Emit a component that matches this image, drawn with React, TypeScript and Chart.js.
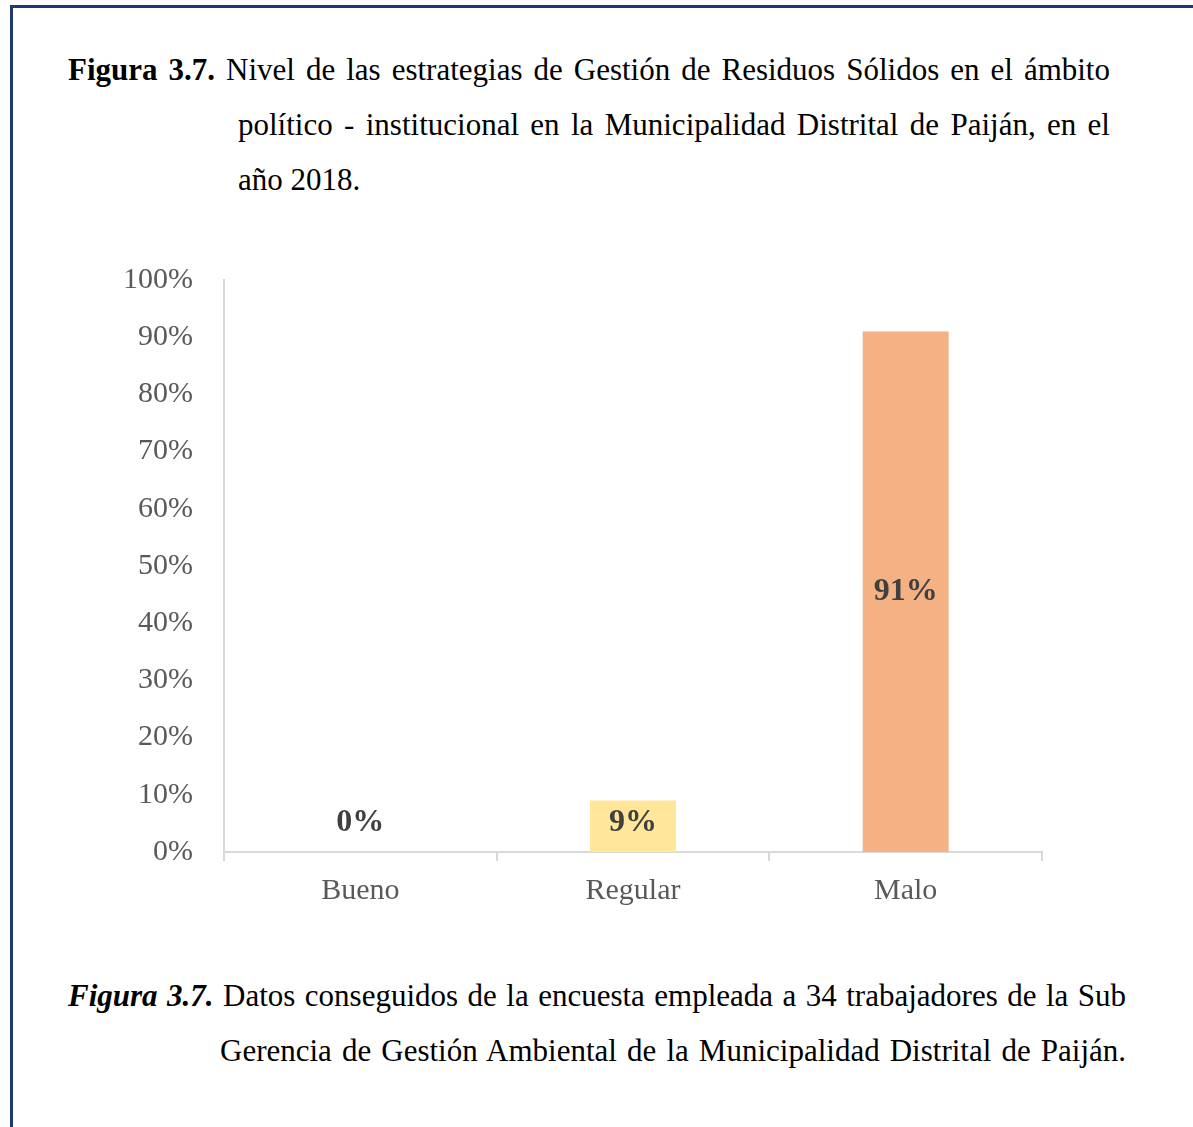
import React, { useEffect, useRef } from "react";
import { Chart, registerables } from "chart.js";

Chart.register(...registerables);

const categories = ["Bueno", "Regular", "Malo"];
const values = [0, 9, 91];
const valueLabels = ["0%", "9%", "91%"];
const barColors = ["#5B9BD5", "#FFE699", "#F4B183"];
const yTicks = [0, 10, 20, 30, 40, 50, 60, 70, 80, 90, 100];

const FONT = "'Liberation Serif', 'Times New Roman', serif";

const dataLabelPlugin = {
  id: "dataLabels",
  afterDatasetsDraw(chart: any) {
    const ctx = chart.ctx;
    const meta = chart.getDatasetMeta(0);
    ctx.save();
    ctx.font = `bold 32px ${FONT}`;
    ctx.fillStyle = "#404040";
    ctx.textAlign = "center";
    ctx.textBaseline = "middle";
    meta.data.forEach((bar: any, i: number) => {
      const base = bar.base;
      const mid = (bar.y + base) / 2;
      const y = Math.min(mid, base - 29);
      ctx.fillText(valueLabels[i], bar.x, y);
    });
    ctx.restore();
  },
};

function BarChart() {
  const ref = useRef<HTMLCanvasElement>(null);
  useEffect(() => {
    if (!ref.current) return;
    const chart = new Chart(ref.current, {
      type: "bar",
      data: {
        labels: categories,
        datasets: [
          {
            data: values,
            backgroundColor: barColors,
            borderWidth: 0,
            barPercentage: 0.315,
            categoryPercentage: 1,
          },
        ],
      },
      options: {
        animation: false,
        responsive: false,
        maintainAspectRatio: false,
        layout: { padding: { top: 9, right: 58, bottom: 0, left: 0 } },
        plugins: { legend: { display: false }, tooltip: { enabled: false } },
        scales: {
          x: {
            grid: {
              display: true,
              offset: true,
              drawOnChartArea: false,
              drawTicks: true,
              tickLength: 9,
              color: "#D9D9D9",
              lineWidth: 2,
            },
            border: { display: true, color: "#D9D9D9", width: 2 },
            ticks: {
              color: "#595959",
              font: { family: FONT, size: 30 },
              padding: 12,
            },
            afterFit(scale: any) {
              scale.height = 78;
            },
          },
          y: {
            min: 0,
            max: 100,
            afterBuildTicks(scale: any) {
              scale.ticks = yTicks.map((v) => ({ value: v }));
            },
            grid: { display: false, drawTicks: false, tickLength: 0 },
            border: { display: true, color: "#D9D9D9", width: 2 },
            ticks: {
              color: "#595959",
              font: { family: FONT, size: 30 },
              padding: 31,
              callback: (v: any) => `${v}%`,
            },
            afterFit(scale: any) {
              scale.width = 124;
            },
          },
        },
      },
      plugins: [dataLabelPlugin],
    });
    return () => chart.destroy();
  }, []);
  return (
    <canvas
      ref={ref}
      width={1000}
      height={699}
      style={{ position: "absolute", left: 100, top: 231, width: 1000, height: 699 }}
    />
  );
}

const textBase: React.CSSProperties = {
  position: "absolute",
  fontFamily: FONT,
  fontSize: 31,
  lineHeight: "55px",
  color: "#000",
  whiteSpace: "nowrap",
};

export default function App() {
  return (
    <div
      style={{
        position: "absolute",
        left: 0,
        top: 0,
        width: 1193,
        height: 1127,
        background: "#fff",
        overflow: "hidden",
      }}
    >
      <div style={{ position: "absolute", left: 10, top: 5, width: 3, height: 1122, background: "#1F3A70" }} />
      <div style={{ position: "absolute", left: 10, top: 5, width: 1183, height: 3, background: "#1F3A70" }} />

      <div style={{ ...textBase, left: 68, top: 42, width: 1042, textAlign: "justify", textAlignLast: "justify" }}>
        <b>Figura 3.7.</b> Nivel de las estrategias de Gestión de Residuos Sólidos en el ámbito
      </div>
      <div style={{ ...textBase, left: 238, top: 97, width: 872, textAlign: "justify", textAlignLast: "justify" }}>
        político - institucional en la Municipalidad Distrital de Paiján, en el
      </div>
      <div style={{ ...textBase, left: 238, top: 152 }}>año 2018.</div>

      <BarChart />

      <div style={{ ...textBase, left: 68, top: 968, width: 1058, textAlign: "justify", textAlignLast: "justify" }}>
        <b><i>Figura 3.7.</i></b> Datos conseguidos de la encuesta empleada a 34 trabajadores de la Sub
      </div>
      <div style={{ ...textBase, left: 220, top: 1023, width: 906, textAlign: "justify", textAlignLast: "justify" }}>
        Gerencia de Gestión Ambiental de la Municipalidad Distrital de Paiján.
      </div>
    </div>
  );
}
